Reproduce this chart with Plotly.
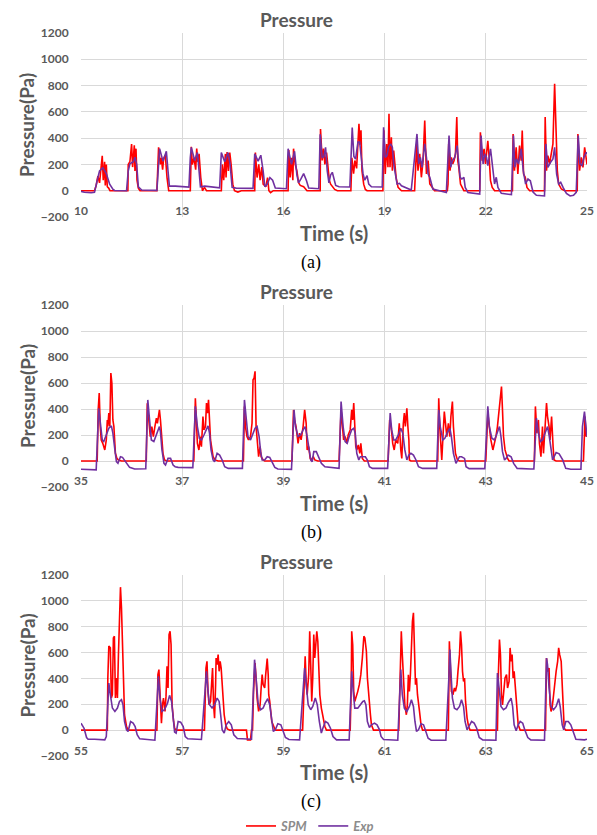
import plotly.graph_objects as go

# ---------------------------------------------------------------- data
# (time s, pressure Pa)

spm_a = [
    (10.0, 0), (10.4, 0), (10.45, 40), (10.5, 110), (10.55, 60), (10.6, 180), (10.63, 265), (10.66, 80),
    (10.7, 220), (10.72, 40), (10.75, 200), (10.78, 30), (10.82, 20), (10.86, 0),
    (11.39, 0), (11.4, 200), (11.45, 220), (11.5, 355), (11.53, 180), (11.55, 240), (11.58, 345), (11.6, 150),
    (11.63, 320), (11.66, 80), (11.7, 20), (11.75, 0),
    (12.25, 0), (12.3, 330), (12.35, 200), (12.38, 250), (12.42, 160), (12.45, 245), (12.5, 270), (12.55, 100), (12.6, 0),
    (13.24, 0), (13.27, 335), (13.3, 200), (13.35, 250), (13.4, 160), (13.43, 320), (13.46, 220), (13.5, 280),
    (13.55, 100), (13.6, 0), (13.66, 25), (13.72, 0),
    (14.16, 0), (14.19, 200), (14.23, 80), (14.28, 280), (14.3, 100), (14.33, 295), (14.37, 150), (14.41, 290),
    (14.45, 200), (14.5, 50), (14.55, 0), (14.65, -10), (14.75, 0),
    (15.15, 0), (15.17, 290), (15.22, 100), (15.27, 200), (15.31, 80), (15.36, 180), (15.4, 50), (15.48, 30),
    (15.53, 100), (15.57, 0), (15.62, -15), (15.7, 0),
    (16.14, 0), (16.16, 310), (16.2, 100), (16.24, 250), (16.28, 80), (16.3, 320), (16.35, 200), (16.4, 150),
    (16.45, 60), (16.5, 40), (16.6, 30), (16.7, 0),
    (17.09, 0), (17.1, 470), (17.15, 230), (17.19, 320), (17.23, 200), (17.28, 290), (17.32, 180), (17.36, 80),
    (17.4, 50), (17.45, 30), (17.52, 10), (17.6, 0),
    (18.0, 0), (18.03, 250), (18.08, 130), (18.12, 230), (18.17, 170), (18.24, 510), (18.27, 350), (18.3, 460),
    (18.33, 150), (18.38, 50), (18.43, 10), (18.48, 0),
    (18.95, 0), (18.98, 460), (19.02, 127), (19.06, 356), (19.1, 178), (19.13, 585), (19.16, 178), (19.2, 407),
    (19.23, 153), (19.27, 305), (19.3, 204), (19.34, 102), (19.4, 25), (19.5, 0),
    (19.89, 0), (19.91, 100), (19.95, 356), (19.99, 153), (20.04, 280), (20.09, 102), (20.14, 229), (20.19, 534),
    (20.24, 127), (20.29, 229), (20.34, 51), (20.38, 38), (20.48, 0),
    (20.86, 0), (20.88, 50), (20.9, 356), (20.94, 153), (20.98, 254), (21.02, 204), (21.06, 229), (21.1, 280),
    (21.14, 560), (21.17, 229), (21.2, 178), (21.25, 51), (21.3, 25), (21.35, 0),
    (21.82, 0), (21.84, 445), (21.89, 229), (21.95, 318), (21.99, 204), (22.02, 305), (22.06, 380), (22.1, 254),
    (22.14, 76), (22.19, 25), (22.26, 0),
    (22.79, 0), (22.81, 432), (22.85, 153), (22.9, 331), (22.95, 127), (23.0, 343), (23.05, 229), (23.08, 458),
    (23.12, 127), (23.17, 102), (23.22, 25), (23.3, 0),
    (23.74, 0), (23.76, 560), (23.8, 153), (23.84, 267), (23.89, 204), (23.94, 280), (23.99, 356), (24.04, 814),
    (24.08, 432), (24.12, 153), (24.16, 51), (24.24, 13), (24.34, 0),
    (24.71, 0), (24.73, 432), (24.78, 153), (24.83, 254), (24.88, 178), (24.93, 330), (24.98, 229), (25.0, 200),
]

exp_a = [
    (10.0, -5), (10.1, -12), (10.3, -15), (10.4, -12), (10.5, 100), (10.55, 150), (10.65, 175), (10.75, 130),
    (10.85, 50), (10.95, 10), (11.0, 2), (11.35, 0),
    (11.4, 150), (11.45, 205), (11.55, 220), (11.6, 255), (11.65, 200), (11.7, 30), (11.8, 5), (12.25, 3),
    (12.3, 200), (12.33, 320), (12.43, 225), (12.53, 300), (12.58, 150), (12.62, 35), (12.8, 35), (13.2, 28),
    (13.24, 250), (13.27, 330), (13.37, 230), (13.45, 290), (13.5, 150), (13.54, 30), (13.67, 35), (14.11, 22),
    (14.16, 290), (14.26, 220), (14.36, 290), (14.42, 200), (14.48, 25), (14.6, 20), (15.1, 18),
    (15.15, 280), (15.25, 225), (15.33, 270), (15.4, 150), (15.45, 30), (15.52, 50), (15.6, 100), (15.68, 80),
    (15.76, 20), (16.09, 15),
    (16.14, 320), (16.24, 200), (16.33, 300), (16.4, 120), (16.45, 60), (16.52, 90), (16.6, 130), (16.68, 80),
    (16.75, 20), (17.05, 15),
    (17.09, 430), (17.15, 250), (17.2, 260), (17.25, 330), (17.3, 150), (17.35, 60), (17.4, 120), (17.45, 140),
    (17.5, 80), (17.55, 40), (17.65, 30), (17.97, 28),
    (18.04, 480), (18.09, 260), (18.14, 240), (18.21, 370), (18.26, 370), (18.3, 250), (18.36, 130), (18.41, 80),
    (18.48, 115), (18.53, 50), (18.61, 30), (18.93, 28),
    (18.97, 483), (19.02, 254), (19.07, 267), (19.12, 330), (19.18, 356), (19.23, 330), (19.27, 204), (19.32, 127),
    (19.37, 51), (19.44, 56), (19.5, 38), (19.79, 5),
    (19.96, 432), (20.01, 204), (20.06, 254), (20.11, 178), (20.19, 356), (20.24, 254), (20.29, 127), (20.34, 102),
    (20.38, 51), (20.43, 13), (20.83, -13),
    (20.91, 420), (20.96, 178), (21.01, 229), (21.08, 254), (21.15, 343), (21.2, 204), (21.24, 102), (21.29, 89),
    (21.35, 102), (21.39, 25), (21.47, -13), (21.82, -25),
    (21.86, 420), (21.92, 204), (21.97, 280), (22.02, 254), (22.06, 191), (22.14, 318), (22.21, 127), (22.26, 51),
    (22.31, 102), (22.36, 25), (22.46, -20), (22.76, -30),
    (22.82, 420), (22.86, 178), (22.91, 242), (22.97, 204), (23.05, 318), (23.11, 153), (23.18, 51), (23.25, 89),
    (23.32, 76), (23.4, -10), (23.5, -35), (23.74, -40),
    (23.78, 356), (23.84, 178), (23.92, 216), (23.99, 242), (24.04, 330), (24.1, 127), (24.16, 51), (24.22, 64),
    (24.29, 25), (24.39, -20), (24.5, -40), (24.6, -35), (24.68, -13),
    (24.74, 420), (24.79, 204), (24.85, 191), (24.91, 254), (24.98, 293), (25.0, 280),
]

spm_b = [
    (35.0, 0), (35.32, 0), (35.34, 393), (35.36, 522), (35.38, 265), (35.4, 162), (35.43, 136), (35.47, 85),
    (35.5, 162), (35.52, 316), (35.53, 265), (35.55, 368), (35.57, 265), (35.59, 676), (35.61, 600), (35.63, 316),
    (35.65, 265), (35.68, 59), (35.71, 20), (35.74, 8), (35.8, 0),
    (36.29, 0), (36.31, 445), (36.34, 316), (36.37, 188), (36.4, 265), (36.43, 188), (36.46, 265), (36.49, 330),
    (36.51, 290), (36.53, 368), (36.55, 393), (36.57, 316), (36.59, 188), (36.62, 59), (36.65, 8), (36.69, 0),
    (37.23, 0), (37.26, 483), (37.28, 316), (37.3, 136), (37.33, 85), (37.36, 188), (37.38, 110), (37.41, 342),
    (37.43, 239), (37.46, 265), (37.48, 445), (37.5, 368), (37.52, 470), (37.54, 265), (37.56, 162), (37.59, 85),
    (37.61, 33), (37.65, 8), (37.71, 0),
    (38.21, 0), (38.23, 420), (38.25, 265), (38.28, 188), (38.31, 162), (38.35, 188), (38.38, 290), (38.4, 625),
    (38.42, 638), (38.44, 690), (38.46, 265), (38.48, 162), (38.51, 33), (38.54, 110), (38.56, 33), (38.6, 8),
    (38.63, 0),
    (39.17, 0), (39.2, 393), (39.22, 316), (39.25, 265), (39.29, 136), (39.32, 214), (39.35, 162), (39.39, 265),
    (39.42, 393), (39.45, 290), (39.47, 85), (39.5, 110), (39.53, 20), (39.55, 8), (39.59, 33), (39.62, 8), (39.68, 0),
    (40.1, 0), (40.14, 393), (40.16, 265), (40.19, 162), (40.22, 188), (40.26, 136), (40.28, 200), (40.32, 239),
    (40.35, 393), (40.37, 316), (40.39, 445), (40.41, 316), (40.43, 110), (40.45, 85), (40.48, 123), (40.51, 59),
    (40.53, 136), (40.56, 20), (40.6, 0),
    (41.07, 0), (41.1, 316), (41.13, 265), (41.16, 136), (41.19, 85), (41.22, 162), (41.26, 136), (41.29, 290),
    (41.32, 85), (41.34, 20), (41.37, 290), (41.39, 368), (41.41, 265), (41.44, 406), (41.46, 265), (41.48, 162),
    (41.49, 8), (41.52, 0),
    (42.05, 0), (42.07, 483), (42.09, 265), (42.13, 8), (42.15, 162), (42.18, 380), (42.21, 265), (42.23, 188),
    (42.26, 290), (42.29, 188), (42.31, 342), (42.34, 458), (42.36, 265), (42.38, 136), (42.4, 59), (42.44, 8),
    (42.48, 0),
    (43.0, 0), (43.04, 368), (43.07, 265), (43.1, 162), (43.14, 85), (43.17, 136), (43.2, 188), (43.23, 265),
    (43.27, 445), (43.29, 548), (43.31, 573), (43.33, 393), (43.35, 188), (43.38, 85), (43.41, 33), (43.43, 20),
    (43.46, 0),
    (43.96, 0), (43.98, 420), (44.01, 214), (44.04, 316), (44.06, 136), (44.09, 33), (44.12, 265), (44.14, 59),
    (44.17, 239), (44.2, 445), (44.22, 342), (44.25, 265), (44.27, 162), (44.3, 342), (44.33, 110), (44.35, 8),
    (44.39, 0),
    (44.93, 0), (44.95, 214), (44.96, 342), (44.98, 188), (45.0, 200),
]

exp_b = [
    (35.0, -64), (35.1, -66), (35.3, -68), (35.35, 406), (35.39, 265), (35.42, 162), (35.45, 150), (35.5, 200),
    (35.55, 252), (35.6, 270), (35.63, 214), (35.67, 85), (35.7, -5), (35.73, -18), (35.78, 33), (35.82, 28),
    (35.86, 8), (35.9, -18), (35.96, -49), (36.06, -62), (36.26, -64),
    (36.28, -60), (36.32, 470), (36.36, 265), (36.39, 162), (36.44, 150), (36.49, 200), (36.55, 265), (36.57, 226),
    (36.6, 85), (36.64, -18), (36.67, -31), (36.72, 20), (36.77, 20), (36.82, -31), (36.86, -44), (36.92, -49),
    (37.18, -51),
    (37.21, -51), (37.26, 420), (37.3, 265), (37.34, 175), (37.38, 162), (37.43, 200), (37.48, 252), (37.51, 270),
    (37.54, 214), (37.57, 85), (37.61, 8), (37.64, -5), (37.69, 59), (37.74, 46), (37.79, 8), (37.84, -44),
    (37.91, -57), (38.17, -57),
    (38.19, -57), (38.23, 470), (38.27, 290), (38.3, 188), (38.35, 162), (38.4, 214), (38.44, 252), (38.48, 265),
    (38.52, 188), (38.55, 72), (38.58, 8), (38.63, 8), (38.68, 33), (38.73, 28), (38.78, -5), (38.83, -49),
    (38.89, -62), (39.16, -64),
    (39.21, 393), (39.24, 265), (39.29, 188), (39.34, 200), (39.39, 239), (39.43, 265), (39.47, 188), (39.51, 85),
    (39.54, 8), (39.57, -5), (39.6, 72), (39.65, 72), (39.7, 33), (39.75, -18), (39.82, -44), (40.03, -50),
    (40.1, -57),
    (40.14, 458), (40.18, 265), (40.22, 150), (40.26, 136), (40.3, 188), (40.35, 240), (40.39, 252), (40.42, 214),
    (40.45, 59), (40.49, 8), (40.52, 33), (40.57, 33), (40.62, 33), (40.66, 8), (40.7, -44), (40.76, -57),
    (41.03, -57),
    (41.06, -57), (41.11, 368), (41.14, 239), (41.18, 162), (41.22, 162), (41.27, 200), (41.32, 252), (41.36, 214),
    (41.4, 85), (41.44, 8), (41.48, 46), (41.52, 59), (41.57, 46), (41.62, 8), (41.67, -44), (41.75, -57),
    (42.0, -57),
    (42.03, -57), (42.07, 393), (42.1, 265), (42.15, 162), (42.19, 175), (42.25, 226), (42.29, 252), (42.32, 188),
    (42.36, 59), (42.41, -18), (42.44, 8), (42.48, 33), (42.52, 33), (42.58, 20), (42.61, -44), (42.67, -59),
    (42.94, -59),
    (42.98, -59), (43.04, 420), (43.07, 265), (43.12, 175), (43.17, 162), (43.21, 200), (43.27, 265), (43.3, 188),
    (43.33, 72), (43.37, 8), (43.4, 20), (43.44, 46), (43.5, 33), (43.55, -18), (43.62, -57), (43.89, -62),
    (43.95, -62), (44.0, 330), (44.04, 214), (44.08, 150), (44.12, 162), (44.17, 214), (44.22, 265), (44.25, 200),
    (44.29, 85), (44.32, 8), (44.35, 33), (44.39, 65), (44.45, 55), (44.52, 8), (44.58, -57), (44.68, -64),
    (44.88, -64),
    (44.91, 265), (44.95, 380), (44.98, 265), (45.0, 188),
]

spm_c = [
    (55.0, 0), (55.52, 0), (55.53, 400), (55.55, 650), (55.58, 636), (55.6, 248), (55.62, 274), (55.64, 713),
    (55.66, 726), (55.68, 248), (55.7, 403), (55.72, 248), (55.74, 584), (55.76, 816), (55.78, 1106), (55.8, 946),
    (55.82, 664), (55.84, 274), (55.86, 119), (55.9, 28), (55.93, 0),
    (56.5, 0), (56.52, 430), (56.54, 468), (56.57, 196), (56.59, 54), (56.61, 196), (56.63, 248), (56.66, 145),
    (56.68, 261), (56.7, 494), (56.72, 326), (56.74, 739), (56.76, 765), (56.78, 662), (56.8, 196), (56.83, 67),
    (56.85, 15), (56.88, 0),
    (57.44, 0), (57.47, 480), (57.49, 532), (57.51, 300), (57.53, 196), (57.56, 222), (57.58, 352), (57.6, 480),
    (57.62, 196), (57.64, 93), (57.66, 352), (57.67, 558), (57.69, 506), (57.71, 584), (57.73, 455), (57.75, 532),
    (57.77, 480), (57.8, 274), (57.83, 119), (57.86, 41), (57.89, 10), (57.94, 0),
    (58.27, 0), (58.29, -75), (58.35, -75), (58.37, 0),
    (58.39, 0), (58.41, 300), (58.44, 519), (58.46, 403), (58.48, 248), (58.51, 145), (58.54, 196), (58.56, 326),
    (58.58, 429), (58.6, 352), (58.63, 326), (58.65, 429), (58.68, 553), (58.7, 429), (58.71, 274), (58.73, 222),
    (58.75, 145), (58.77, 67), (58.81, 28), (58.84, 0),
    (59.38, 0), (59.41, 455), (59.43, 571), (59.45, 377), (59.47, 274), (59.5, 429), (59.52, 765), (59.54, 506),
    (59.56, 222), (59.58, 403), (59.6, 739), (59.62, 558), (59.64, 661), (59.66, 765), (59.68, 687), (59.7, 403),
    (59.72, 274), (59.75, 171), (59.78, 93), (59.82, 28), (59.85, 0),
    (60.32, 0), (60.34, 326), (60.35, 765), (60.37, 661), (60.39, 300), (60.41, 222), (60.44, 274), (60.47, 300),
    (60.5, 352), (60.53, 429), (60.56, 558), (60.59, 726), (60.61, 713), (60.63, 636), (60.64, 610), (60.66, 403),
    (60.69, 222), (60.72, 119), (60.74, 41), (60.78, 0),
    (61.28, 0), (61.3, 403), (61.33, 765), (61.35, 584), (61.38, 274), (61.4, 196), (61.43, 119), (61.45, 196),
    (61.47, 429), (61.49, 300), (61.51, 429), (61.53, 661), (61.55, 842), (61.57, 907), (61.59, 661), (61.61, 352),
    (61.63, 403), (61.65, 274), (61.69, 145), (61.72, 41), (61.75, 0),
    (62.26, 0), (62.28, 687), (62.3, 532), (62.32, 300), (62.35, 274), (62.38, 326), (62.4, 300), (62.43, 352),
    (62.45, 455), (62.48, 584), (62.5, 765), (62.52, 661), (62.54, 455), (62.56, 377), (62.58, 403), (62.6, 222),
    (62.63, 93), (62.66, 28), (62.69, 0),
    (63.23, 0), (63.25, 455), (63.27, 700), (63.29, 584), (63.31, 274), (63.33, 196), (63.35, 274), (63.38, 403),
    (63.41, 429), (63.43, 326), (63.46, 377), (63.48, 636), (63.5, 532), (63.52, 584), (63.54, 403), (63.56, 455),
    (63.58, 352), (63.61, 171), (63.64, 41), (63.68, 0),
    (64.18, 0), (64.2, 558), (64.22, 455), (64.25, 480), (64.27, 196), (64.29, 145), (64.31, 171), (64.34, 274),
    (64.37, 403), (64.39, 455), (64.42, 532), (64.44, 636), (64.46, 584), (64.49, 532), (64.51, 352), (64.53, 145),
    (64.55, 15), (64.58, 0), (65.0, 0),
]

exp_c = [
    (55.0, 54), (55.01, 46), (55.06, 15), (55.11, -57), (55.14, -70), (55.27, -70), (55.47, -75), (55.5, -49),
    (55.55, 364), (55.58, 274), (55.62, 171), (55.67, 145), (55.72, 171), (55.76, 222), (55.8, 235), (55.83, 196),
    (55.86, 67), (55.9, 3), (55.93, -10), (55.98, 67), (56.03, 54), (56.07, 28), (56.11, -36), (56.16, -67),
    (56.46, -78),
    (56.53, 416), (56.56, 248), (56.6, 145), (56.65, 158), (56.71, 209), (56.75, 269), (56.79, 222), (56.82, 67),
    (56.85, -15), (56.88, -23), (56.92, 67), (56.97, 62), (57.02, 28), (57.06, -49), (57.11, -67), (57.38, -72),
    (57.48, 455), (57.51, 300), (57.54, 196), (57.59, 171), (57.64, 196), (57.69, 248), (57.73, 222), (57.76, 119),
    (57.79, 3), (57.83, -23), (57.87, 41), (57.92, 67), (57.97, 41), (58.02, -36), (58.09, -65), (58.37, -70),
    (58.43, 545), (58.46, 403), (58.5, 209), (58.55, 158), (58.6, 171), (58.64, 209), (58.69, 243), (58.73, 196),
    (58.77, 80), (58.8, -10), (58.84, 3), (58.89, 49), (58.95, 41), (58.99, 3), (59.04, -57), (59.11, -72),
    (59.32, -75),
    (59.42, 480), (59.45, 326), (59.49, 196), (59.54, 158), (59.58, 183), (59.63, 248), (59.67, 196), (59.71, 67),
    (59.75, -23), (59.78, 15), (59.83, 67), (59.88, 54), (59.93, 15), (59.98, -49), (60.05, -75), (60.3, -75),
    (60.32, 145), (60.35, 455), (60.38, 300), (60.41, 170), (60.47, 170), (60.52, 196), (60.57, 222), (60.6, 227),
    (60.63, 196), (60.66, 67), (60.7, 21), (60.74, 41), (60.8, 54), (60.85, 41), (60.9, 3), (60.93, -49),
    (60.98, -72), (61.26, -78),
    (61.29, 145), (61.32, 468), (61.35, 274), (61.39, 170), (61.44, 145), (61.49, 183), (61.53, 235), (61.57, 183),
    (61.6, 67), (61.63, -10), (61.67, 3), (61.72, 49), (61.77, 41), (61.82, -10), (61.86, -62), (61.92, -78),
    (62.21, -78),
    (62.27, 403), (62.29, 623), (62.31, 455), (62.34, 248), (62.38, 170), (62.43, 158), (62.48, 183), (62.52, 235),
    (62.56, 183), (62.59, 67), (62.63, 3), (62.67, 28), (62.72, 67), (62.77, 54), (62.82, 15), (62.87, -57),
    (62.94, -75), (63.2, -78),
    (63.23, 442), (63.27, 300), (63.3, 183), (63.35, 158), (63.4, 171), (63.44, 209), (63.5, 248), (63.53, 183),
    (63.56, 41), (63.6, -5), (63.64, 41), (63.68, 67), (63.73, 54), (63.77, 3), (63.83, -57), (63.89, -75),
    (64.16, -78),
    (64.2, 558), (64.22, 506), (64.25, 326), (64.29, 183), (64.34, 158), (64.39, 183), (64.44, 243), (64.47, 183),
    (64.51, 41), (64.54, 3), (64.58, 67), (64.63, 67), (64.68, 41), (64.74, -23), (64.78, -70), (64.95, -75),
    (65.0, -70),
]

x_ranges = [(10, 25), (35, 45), (55, 65)]
x_dticks = [3, 2, 2]
captions = ['(a)', '(b)', '(c)']

# ---------------------------------------------------------------- layout helpers
W, H = 597, 835
GRAY = '#595959'
GRID = '#d9d9d9'
FONT = 'Lato'

# plot areas in pixels (top, bottom) for each panel
panel_px = [(33, 217), (305, 487), (575, 756)]
left_px, right_px = 81, 587


def py(p):
    return 1 - p / H


def px(p):
    return p / W


def label(text, x, y, size, family=FONT, color=GRAY, weight='bold', angle=0):
    return dict(text=text, x=x, y=y, xref='paper', yref='paper', xanchor='center', yanchor='middle',
                textangle=angle, showarrow=False,
                font=dict(family=family, size=size, color=color, weight=weight))


fig = go.Figure()

series = [(spm_a, exp_a), (spm_b, exp_b), (spm_c, exp_c)]
for i, (spm, exp) in enumerate(series):
    n = '' if i == 0 else str(i + 1)
    fig.add_trace(go.Scatter(x=[a for a, b in spm], y=[b for a, b in spm], mode='lines', name='SPM',
                             line=dict(color='#ff0000', width=1.6), xaxis='x' + n, yaxis='y' + n,
                             showlegend=(i == 0)))
    fig.add_trace(go.Scatter(x=[a for a, b in exp], y=[b for a, b in exp], mode='lines', name='Exp',
                             line=dict(color='#7030a0', width=1.6), xaxis='x' + n, yaxis='y' + n,
                             showlegend=(i == 0)))

annotations = []
layout = {}
for i in range(3):
    n = '' if i == 0 else str(i + 1)
    top, bot = panel_px[i]
    y0, y1 = py(bot), py(top)
    zero_pos = y0 + (y1 - y0) * 200 / 1400
    layout['xaxis' + n] = dict(
        domain=[px(left_px), px(right_px)], range=list(x_ranges[i]), tick0=x_ranges[i][0], dtick=x_dticks[i],
        anchor='free', position=zero_pos, showline=False, zeroline=False, automargin=False,
        showgrid=True, gridcolor=GRID, gridwidth=1,
        ticks='outside', ticklen=9, tickcolor='rgba(0,0,0,0)',
        tickfont=dict(family=FONT, size=12, color=GRAY, weight='bold'),
    )
    layout['yaxis' + n] = dict(
        domain=[y0, y1], range=[-200, 1200], dtick=200, anchor='x' + n, automargin=False,
        showline=False, zeroline=False, showgrid=True, gridcolor=GRID, gridwidth=1,
        ticks='outside', ticklen=9, tickcolor='rgba(0,0,0,0)',
        tickfont=dict(family=FONT, size=12, color=GRAY, weight='bold'),
    )
    # panel title, axis titles, caption
    annotations.append(label('Pressure', px(296), py(top - 14), 19))
    annotations.append(label('Pressure(Pa)', px(27), (y0 + y1) / 2, 19, angle=-90))
    annotations.append(label('Time (s)', px(334), py(bot + 16), 20))
    annotations.append(label(captions[i], px(311), py(bot + 45), 18, family='Liberation Serif',
                             color='black', weight='normal'))

fig.update_layout(
    **layout,
    width=W, height=H,
    margin=dict(l=0, r=0, t=0, b=0, autoexpand=False),
    paper_bgcolor='white', plot_bgcolor='white',
    annotations=annotations,
    showlegend=True,
    legend=dict(orientation='h', x=px(310), xanchor='center', y=py(826), yanchor='middle',
                font=dict(family=FONT, size=13, color='#8c8c8c', style='italic', weight='bold'),
                itemwidth=30, tracegroupgap=0, bgcolor='rgba(0,0,0,0)'),
)

# the page body has a default 8px margin; drop it so the figure sits at the window corner
fig.write_html("out.html", config={'displayModeBar': False},
               post_script="document.body.style.margin='0px';")
